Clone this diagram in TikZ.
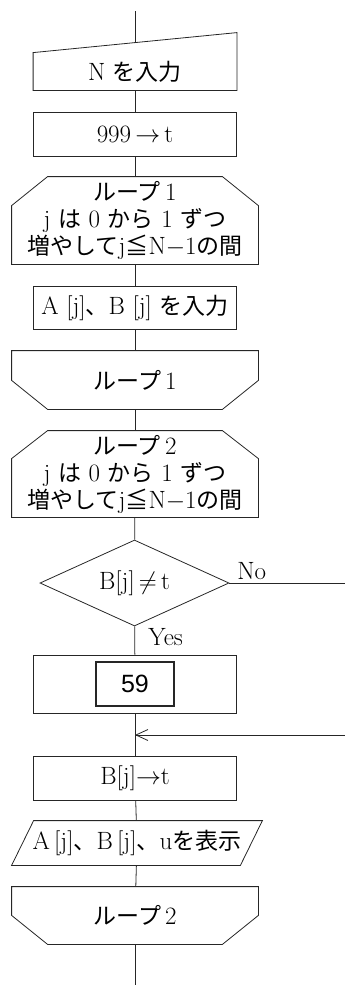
\documentclass[tikz,border=0pt]{standalone}
\usepackage{fontspec}
\newfontfamily\jpfont{Noto Sans CJK JP}[Scale=0.92]
\newfontfamily\numfont{Liberation Sans}
\newcommand{\jp}[1]{{\jpfont #1}}
\usetikzlibrary{calc}
\usetikzlibrary{arrows.meta}
\usetikzlibrary{shapes.geometric}

\tikzset{
    flow/.style={font=\fontsize{25pt}{27pt}\selectfont, inner sep=0pt, align=center},
    procbox/.style={flow, draw, rectangle, minimum width=203pt, minimum height=44pt},
    shapebox/.style={flow, rectangle, minimum width=246pt},
    decbox/.style={flow, draw, diamond, aspect=2.2, minimum width=189pt, minimum height=86pt},
    tag/.style={flow, anchor=west},
    numbox/.style={draw, rectangle, line width=1.1pt, minimum width=78pt, minimum height=44pt,
        font=\numfont\fontsize{25pt}{28pt}\selectfont}
}

\begin{document}
\begin{tikzpicture}[x=1pt, y=-1pt, line width=0.8pt, draw=black!85]
                \useasboundingbox (0,0) rectangle (345,985);

                \coordinate (start) at (135,11);
                \node[flow, rectangle, minimum width=203pt, minimum height=37pt] (inp) at (135,71.5) {N\ \jp{を入力}};
                \draw (inp.north west) -- (inp.south west) -- (inp.south east) -- ($(inp.north east)+(0,-20)$) -- cycle;
                \coordinate (inptop) at ($(inp.north)+(0,-10)$);

                \node[procbox] (init) at (135,134) {999\,$\rightarrow$\,t};

                \node[shapebox, minimum height=87pt] (lp1) at (135,220.5)
                    {\jp{ループ}\,1\\j\ \jp{は}\ 0\ \jp{から}\ 1\ \jp{ずつ}\\\jp{増やして}j\jp{≦}N$-$1\jp{の間}};
                \draw (lp1.south west) -- ($(lp1.north west)+(0,29)$) -- ($(lp1.north west)+(36,0)$)
                    -- ($(lp1.north east)+(-36,0)$) -- ($(lp1.north east)+(0,29)$) -- (lp1.south east) -- cycle;

                \node[procbox, minimum height=43pt] (rd) at (135,307.5) {A\ [j]\jp{、}B\ [j]\ \jp{を入力}};

                \node[shapebox, minimum height=58pt] (le1) at (135,380) {\jp{ループ}\,1};
                \draw (le1.north west) -- ($(le1.south west)+(0,-29)$) -- ($(le1.south west)+(36,0)$)
                    -- ($(le1.south east)+(-36,0)$) -- ($(le1.south east)+(0,-29)$) -- (le1.north east) -- cycle;

                \node[shapebox, minimum height=86pt] (lp2) at (135,474)
                    {\jp{ループ}\,2\\j\ \jp{は}\ 0\ \jp{から}\ 1\ \jp{ずつ}\\\jp{増やして}j\jp{≦}N$-$1\jp{の間}};
                \draw (lp2.south west) -- ($(lp2.north west)+(0,28)$) -- ($(lp2.north west)+(36,0)$)
                    -- ($(lp2.north east)+(-36,0)$) -- ($(lp2.north east)+(0,28)$) -- (lp2.south east) -- cycle;

                \node[decbox] (dec) at (134.5,583) {B[j]\,$\neq$\,t};
                \node[tag] (no) at (237,571) {No};
                \node[tag] (yes) at (148,637) {Yes};
                \coordinate (noend) at (345,583);

                \node[procbox, minimum height=58pt] (prc) at (135,684) {};
                \node[numbox] (blank) at (prc) {59};

                \coordinate (merge) at (135,735);
                \coordinate (back) at (345,735);

                \node[procbox] (upd) at (135,778) {B[j]$\rightarrow$t};

                \node[flow, rectangle, minimum width=250pt, minimum height=44pt] (out) at (137,843)
                    {A\,[j]\jp{、}B\,[j]\jp{、}u\jp{を表示}};
                \draw ($(out.north west)+(22,0)$) -- (out.north east) -- ($(out.south east)+(-22,0)$) -- (out.south west) -- cycle;

                \node[shapebox, minimum height=57pt] (le2) at (135,915.5) {\jp{ループ}\,2};
                \draw (le2.north west) -- ($(le2.south west)+(0,-29)$) -- ($(le2.south west)+(36,0)$)
                    -- ($(le2.south east)+(-36,0)$) -- ($(le2.south east)+(0,-29)$) -- (le2.north east) -- cycle;

                \coordinate (stop) at (135,985);

                \draw (start) -- (inptop);
                \draw (inp) -- (init);
                \draw (init) -- (lp1);
                \draw (lp1) -- (rd);
                \draw (rd) -- (le1);
                \draw (le1) -- (lp2);
                \draw (lp2) -- (dec);
                \draw (dec.east) -- (noend);
                \draw (dec) -- (prc);
                \draw (prc) -- (upd);
                \draw[-{Straight Barb[length=12pt,width=11pt]}] (back) -- (merge);
                \draw (upd) -- (out);
                \draw (out) -- (le2);
                \draw (le2) -- (stop);
\end{tikzpicture}
\end{document}
